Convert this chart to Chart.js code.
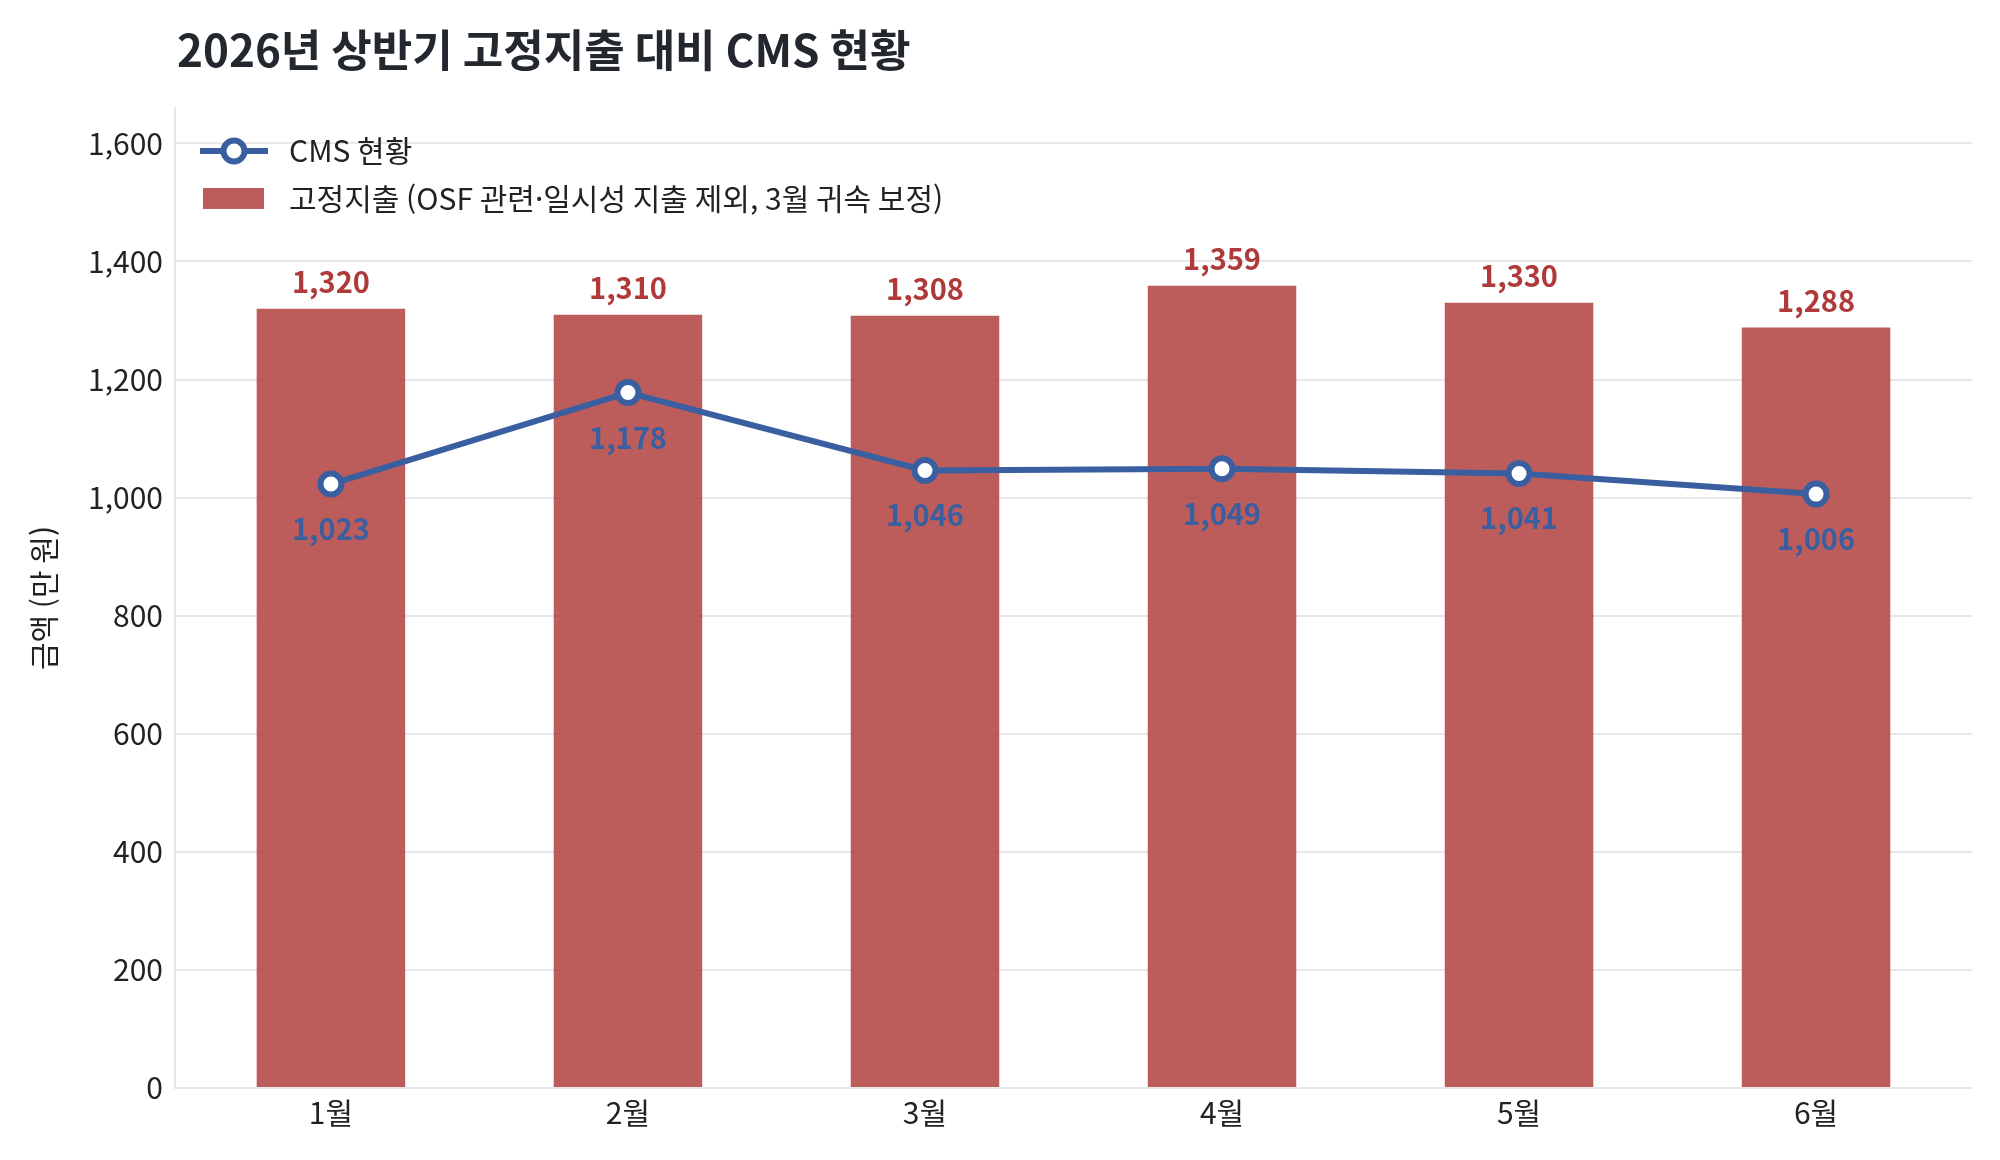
<!DOCTYPE html>
<html lang="ko">
<head>
<meta charset="utf-8">
<title>2026년 상반기 고정지출 대비 CMS 현황</title>
<script src="https://cdn.jsdelivr.net/npm/chart.js@4.4.1/dist/chart.umd.min.js"></script>
<style>
  html, body { margin: 0; padding: 0; background: #ffffff; }
  #wrap { width: 2000px; height: 1160px; }
</style>
</head>
<body>
<div id="wrap"><canvas id="chart" width="2000" height="1160"></canvas></div>
<script>
// 데이터 (만 원)
const months = ['1월', '2월', '3월', '4월', '5월', '6월'];
const fixedCost = [1320, 1310, 1308, 1359, 1330, 1288];   // 고정지출
const cmsStatus = [1023, 1178, 1046, 1049, 1041, 1006];   // CMS 현황
const yTicks = [0, 200, 400, 600, 800, 1000, 1200, 1400, 1600];

const chartTitle = '2026년 상반기 고정지출 대비 CMS 현황';
const cmsLabel = 'CMS 현황';
const fixedLabel = '고정지출 (OSF 관련·일시성 지출 제외, 3월 귀속 보정)';
const yTitle = '금액 (만 원)';

const FONT = '"Noto Sans CJK KR", "Noto Sans", sans-serif';
const BLUE = '#3a5fa0';
const BAR = 'rgba(178, 65, 62, 0.85)';
const RED_TEXT = '#b03a3a';
const GRID = '#e6e8eb';
const TEXT = '#222222';

const fmt = v => v.toLocaleString('en-US');

// 값 라벨
const valueLabels = {
  id: 'valueLabels',
  afterDatasetsDraw(chart) {
    const ctx = chart.ctx;
    ctx.save();
    ctx.font = 'bold 29px ' + FONT;
    ctx.textAlign = 'center';
    ctx.textBaseline = 'middle';
    ctx.fillStyle = RED_TEXT;
    chart.getDatasetMeta(1).data.forEach((bar, i) => {
      ctx.fillText(fmt(fixedCost[i]), bar.x, bar.y - 27);
    });
    ctx.fillStyle = BLUE;
    chart.getDatasetMeta(0).data.forEach((pt, i) => {
      ctx.fillText(fmt(cmsStatus[i]), pt.x, pt.y + 45);
    });
    ctx.restore();
  }
};

// 제목 + 범례
const decor = {
  id: 'decor',
  afterDraw(chart) {
    const ctx = chart.ctx;
    ctx.save();
    ctx.textAlign = 'left';
    ctx.textBaseline = 'middle';
    ctx.fillStyle = '#23282e';
    ctx.font = 'bold 44px ' + FONT;
    ctx.fillText(chartTitle, 177, 50);

    // legend: line + marker
    ctx.strokeStyle = BLUE;
    ctx.lineWidth = 6;
    ctx.beginPath();
    ctx.moveTo(200, 151);
    ctx.lineTo(268, 151);
    ctx.stroke();
    ctx.beginPath();
    ctx.arc(234, 151, 10.5, 0, Math.PI * 2);
    ctx.fillStyle = '#ffffff';
    ctx.fill();
    ctx.stroke();
    // legend: bar
    ctx.fillStyle = BAR;
    ctx.fillRect(203, 188, 61, 21);

    ctx.fillStyle = TEXT;
    ctx.font = '30px ' + FONT;
    ctx.fillText(cmsLabel, 289, 151);
    ctx.fillText(fixedLabel, 289, 199);
    ctx.restore();
  }
};

new Chart(document.getElementById('chart'), {
  type: 'bar',
  data: {
    datasets: [
      {
        type: 'line',
        label: cmsLabel,
        data: cmsStatus.map((v, i) => ({ x: i, y: v })),
        borderColor: BLUE,
        borderWidth: 6,
        tension: 0,
        pointRadius: 10.5,
        pointBorderWidth: 6,
        pointBackgroundColor: '#ffffff',
        pointBorderColor: BLUE,
        order: 0
      },
      {
        type: 'bar',
        label: fixedLabel,
        data: fixedCost.map((v, i) => ({ x: i, y: v })),
        backgroundColor: BAR,
        borderWidth: 0,
        barPercentage: 0.5,
        categoryPercentage: 1,
        order: 1
      }
    ]
  },
  options: {
    responsive: false,
    animation: false,
    devicePixelRatio: 1,
    layout: { padding: { top: 108, right: 28, left: 0, bottom: 0 } },
    plugins: {
      legend: { display: false },
      title: { display: false },
      tooltip: { enabled: false }
    },
    scales: {
      x: {
        type: 'linear',
        offset: false,
        min: -0.525,
        max: 5.525,
        afterFit: s => { s.height = 72; },
        afterBuildTicks: s => { s.ticks = months.map((m, i) => ({ value: i })); },
        grid: { display: false, drawTicks: false, offset: false },
        border: { display: true, color: GRID, width: 2 },
        ticks: {
          padding: 7,
          color: TEXT,
          font: { family: FONT, size: 30 },
          callback: v => months[v]
        }
      },
      y: {
        min: 0,
        max: 1660,
        afterFit: s => { s.width = 175; },
        afterBuildTicks: s => { s.ticks = yTicks.map(v => ({ value: v })); },
        grid: { color: GRID, lineWidth: 2, drawTicks: false },
        border: { display: true, color: GRID, width: 2 },
        ticks: {
          padding: 12,
          color: TEXT,
          font: { family: FONT, size: 30 },
          callback: v => fmt(v)
        },
        title: {
          display: true,
          text: yTitle,
          color: TEXT,
          font: { family: FONT, size: 30 },
          padding: { top: 26, bottom: 0 }
        }
      }
    }
  },
  plugins: [valueLabels, decor]
});
</script>
</body>
</html>
